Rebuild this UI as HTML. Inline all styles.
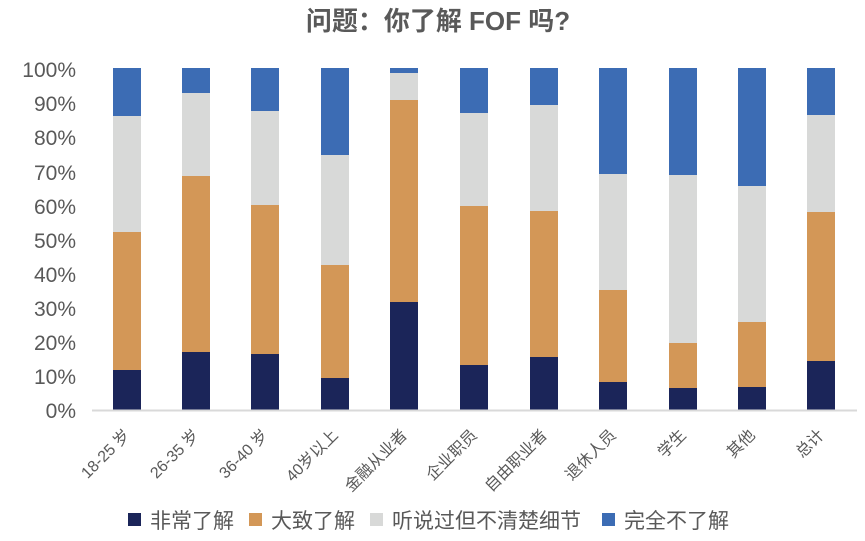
<!DOCTYPE html>
<html><head><meta charset="utf-8"><style>
html,body{margin:0;padding:0;background:#fff;}
svg{display:block;font-family:"Liberation Sans","Noto Sans CJK SC",sans-serif;}
</style></head><body>
<svg width="865" height="541" viewBox="0 0 865 541">
<text x="438" y="30" text-anchor="middle" font-size="26" font-weight="bold" fill="#595959">问题：你了解 FOF 吗?</text>
<g font-size="21" fill="#595959" text-anchor="end">
<text x="76" y="77">100%</text><text x="76" y="111">90%</text><text x="76" y="145">80%</text>
<text x="76" y="180">70%</text><text x="76" y="214">60%</text><text x="76" y="248">50%</text>
<text x="76" y="282">40%</text><text x="76" y="316">30%</text><text x="76" y="350">20%</text>
<text x="76" y="384">10%</text><text x="76" y="418">0%</text>
</g>
<g id="bars"></g>
<line x1="92" y1="410.5" x2="857" y2="410.5" stroke="#d9d9d9" stroke-width="2"/>
<g font-size="16" fill="#595959" text-anchor="end" id="labels"></g>
<g font-size="21" fill="#595959">
<rect x="128" y="513" width="13" height="13" fill="#1b2559"/><text x="150" y="528">非常了解</text>
<rect x="249" y="513" width="13" height="13" fill="#d39757"/><text x="271" y="528">大致了解</text>
<rect x="370" y="513" width="13" height="13" fill="#d8d9d8"/><text x="392" y="528">听说过但不清楚细节</text>
<rect x="602" y="513" width="13" height="13" fill="#3c6cb4"/><text x="624" y="528">完全不了解</text>
</g>
<script>
var d=[[113,116,232,370],[182,93,176,352],[251,111,205,354],[321,155,265,378],[390,73,100,302],[460,113,206,365],[530,105,211,357],[599,174,290,382],[669,175,343,388],[738,186,322,387],[807,115,212,361]];
var L=["18-25 岁","26-35 岁","36-40 岁","40岁以上","金融从业者","企业职员","自由职业者","退休人员","学生","其他","总计"];
var ns="http://www.w3.org/2000/svg",g=document.getElementById("bars"),lg=document.getElementById("labels");
function r(x,y1,y2,c){var e=document.createElementNS(ns,"rect");e.setAttribute("x",x);e.setAttribute("y",y1);e.setAttribute("width",28);e.setAttribute("height",y2-y1);e.setAttribute("fill",c);g.appendChild(e);}
d.forEach(function(b,i){var x=b[0];r(x,68,b[1],"#3c6cb4");r(x,b[1],b[2],"#d8d9d8");r(x,b[2],b[3],"#d39757");r(x,b[3],410,"#1b2559");
var t=document.createElementNS(ns,"text");var cx=x+14+4,cy=436;t.setAttribute("x",cx);t.setAttribute("y",cy);t.setAttribute("transform","rotate(-45 "+cx+" "+cy+")");t.textContent=L[i];lg.appendChild(t);});
</script>
</svg>
</body></html>
